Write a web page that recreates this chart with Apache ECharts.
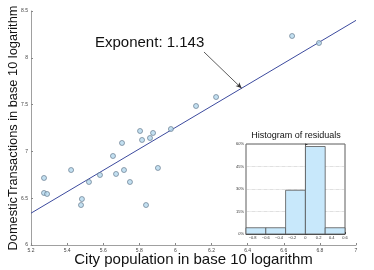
<!DOCTYPE html>
<html><head><meta charset="utf-8">
<script src="https://cdn.jsdelivr.net/npm/echarts@6/dist/echarts.min.js"></script>
<style>html,body{margin:0;padding:0;background:#fff}#c{width:374px;height:270px}</style>
</head><body><div id="c"></div>
<script>
// Scatter data (log10 city population, log10 domestic transactions)
const popLog = [5.272,5.272,5.289,5.422,5.482,5.477,5.521,5.582,5.654,5.671,5.704,5.715,5.748,5.804,5.815,5.837,5.859,5.876,5.903,5.975,6.114,6.225,6.646,6.795];
const txLog  = [6.716,6.556,6.545,6.801,6.491,6.427,6.673,6.748,6.951,6.759,7.090,6.801,6.673,7.218,7.122,6.427,7.143,7.197,6.823,7.239,7.485,7.581,8.233,8.158];
// Fitted line end points
const fitX = [5.2, 7.0];
const fitY = [6.34, 8.40];
// Annotation arrow (data coords)
const arrowFrom = [6.158, 8.062];
const arrowTo = [6.367, 7.674];
// Residual histogram
const binEdges = [-0.9,-0.6,-0.3,0,0.3,0.6];
const binPct = [4.17,4.17,29.17,58.33,4.17];
const histXTicks = [-0.8,-0.6,-0.4,-0.2,0,0.2,0.4,0.6];

const chart = echarts.init(document.getElementById('c'));
const font = 'Liberation Sans, Arial, sans-serif';
const histData = binPct.map((p,i)=>[binEdges[i], binEdges[i+1], p]);
chart.setOption({
  animation:false,
  grid:[
    {left:31, right:18, top:11, bottom:25, outerBoundsMode:'none', containLabel:false},
    {left:246, top:144, width:99, height:90, show:true, backgroundColor:'#fff', borderColor:'#333', borderWidth:0.8, z:10, outerBoundsMode:'none', containLabel:false}
  ],
  xAxis:[
    {type:'value', min:5.2, max:7, interval:0.2, gridIndex:0,
     name:'City population in base 10 logarithm', nameLocation:'middle', nameGap:7, nameMoveOverlap:false,
     nameTextStyle:{fontFamily:font, fontSize:15, color:'#111'},
     axisLine:{lineStyle:{color:'#888', width:0.8}},
     axisTick:{inside:true, length:2, lineStyle:{color:'#888'}},
     axisLabel:{fontSize:5, color:'#444', margin:3, fontFamily:font},
     splitLine:{show:false}},
    {type:'value', min:-0.9, max:0.6, gridIndex:1, z:11,
     axisLine:{lineStyle:{color:'#333', width:0.8}},
     axisTick:{inside:true, length:2, customValues:histXTicks, lineStyle:{color:'#333'}},
     axisLabel:{fontSize:4, color:'#333', margin:2, customValues:histXTicks, fontFamily:font,
       formatter:v=>String(v).replace('-','\u2212')},
     splitLine:{show:false}}
  ],
  yAxis:[
    {type:'value', min:6, max:8.5, interval:0.5, gridIndex:0,
     name:'DomesticTransactions in base 10 logarithm', nameLocation:'middle', nameGap:11, nameMoveOverlap:false,
     nameTextStyle:{fontFamily:font, fontSize:12.8, color:'#111'},
     axisLine:{show:true, lineStyle:{color:'#888', width:0.8}},
     axisTick:{show:true, inside:true, length:2, lineStyle:{color:'#888'}},
     axisLabel:{fontSize:5, color:'#444', margin:3, fontFamily:font},
     splitLine:{show:false}},
    {type:'value', min:0, max:60, interval:15, gridIndex:1, z:11,
     axisLine:{show:true, lineStyle:{color:'#333', width:0.8}},
     axisTick:{show:true, inside:true, length:2, lineStyle:{color:'#333'}},
     axisLabel:{fontSize:4, color:'#333', margin:2, formatter:'{value}%', fontFamily:font},
     splitLine:{show:true, lineStyle:{type:'dotted', color:'#aaa', width:0.6}}}
  ],
  graphic:[
    {type:'text', left:95, top:35, style:{text:'Exponent: 1.143', font:'15px '+font, fill:'#111'}},
    {type:'text', x:296, y:136, z:20, style:{text:'Histogram of residuals', font:'9px '+font, fill:'#111', align:'center', verticalAlign:'middle'}}
  ],
  series:[
    {type:'line', xAxisIndex:0, yAxisIndex:0, data:fitX.map((x,i)=>[x,fitY[i]]), symbol:'none',
     lineStyle:{color:'#3c4a9e', width:1}, z:2,
     markLine:{silent:true, symbol:['none','arrow'], symbolSize:[4,6],
       lineStyle:{color:'#333', width:0.8, type:'solid'}, label:{show:false},
       data:[[{coord:arrowFrom},{coord:arrowTo}]]}},
    {type:'scatter', xAxisIndex:0, yAxisIndex:0, data:popLog.map((x,i)=>[x,txLog[i]]),
     symbol:'circle', symbolSize:5, z:3,
     itemStyle:{color:'#b4d8ee', borderColor:'#5b6f84', borderWidth:0.8}},
    {type:'custom', xAxisIndex:1, yAxisIndex:1, z:12, data:histData,
     encode:{x:[0,1], y:2},
     renderItem:(params, api)=>{
       const p0 = api.coord([api.value(0), api.value(2)]);
       const p1 = api.coord([api.value(1), 0]);
       return {type:'rect', shape:{x:p0[0], y:p0[1], width:p1[0]-p0[0], height:p1[1]-p0[1]},
         style:{fill:'#c8e8fb', stroke:'#555', lineWidth:0.8}};
     },
     markLine:{silent:true, symbol:'none', label:{show:false},
       lineStyle:{color:'#2a3cff', width:2, type:'solid'}, data:[{xAxis:0}]}}
  ]
});
</script></body></html>
